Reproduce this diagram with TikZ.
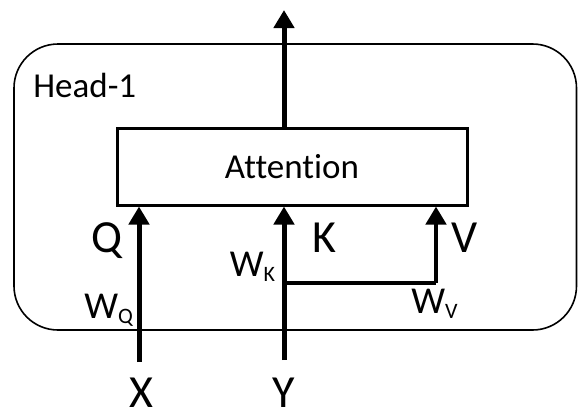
\documentclass[tikz,border=0pt]{standalone}
\usepackage{fontspec}
\setmainfont{Carlito}[Ligatures=CommonOff]
\usetikzlibrary{arrows.meta,positioning}
\newcommand{\txtsize}{\fontsize{17.5}{21}\selectfont}
\newcommand{\bigsize}{\fontsize{23}{27}\selectfont}
\newcommand{\wsize}  {\fontsize{19}{23}\selectfont}
\newcommand{\Wsub}[1]{W\raisebox{-2.5pt}{\fontsize{11}{13}\selectfont #1}}

\begin{document}
\begin{tikzpicture}[x=0.5pt,y=-0.5pt,
   flow/.style={line width=2.5pt,-{Triangle[length=9pt,width=10pt]}},
   lbl/.style={inner sep=0pt,anchor=base}]
   \useasboundingbox (0,0) rectangle (578,414);
   \node[draw,line width=0.8pt,rounded corners=22pt,minimum width=281.25pt,minimum height=143pt] (head) at (295.25,187) {};
   \node[draw,line width=1.5pt,minimum width=175pt,minimum height=38.5pt] (attn) at (292,166.5) {\txtsize Attention};
   \node[lbl,anchor=base west] (headlbl) at (33,97) {\txtsize Head-1};
   % inputs
   \node[lbl] (x) at (141,407) {\bigsize X};
   \node[lbl] (y) at (284,407) {\bigsize Y};
   \coordinate (kv) at (284,283);
   \coordinate (vc) at (436,283);
   \coordinate (out) at (284,10);
   \draw[flow] ([xshift=-1pt,yshift=7.5pt]x.north) -- ([xshift=-1pt]x.north |- attn.south);
   \draw[flow] ([yshift=8.5pt]y.north) -- (y.north |- attn.south);
   \draw[line width=1.6pt] (kv) -- (vc);
   \draw[flow,line width=2.2pt] (vc) -- (vc |- attn.south);
   \draw[flow] (attn.north -| out) -- (out);
   % labels
   \node[lbl] (q) at (107,252) {\bigsize Q};
   \node[lbl] (k) at (324,252) {\bigsize K};
   \node[lbl] (v) at (465,252) {\bigsize V};
   \node[lbl,anchor=base west] (wq) at (84,318) {\wsize\Wsub{Q}};
   \node[lbl,anchor=base west] (wk) at (229.5,276) {\wsize\Wsub{K}};
   \node[lbl,anchor=base west] (wv) at (411,313) {\wsize\Wsub{V}};
\end{tikzpicture}
\end{document}
